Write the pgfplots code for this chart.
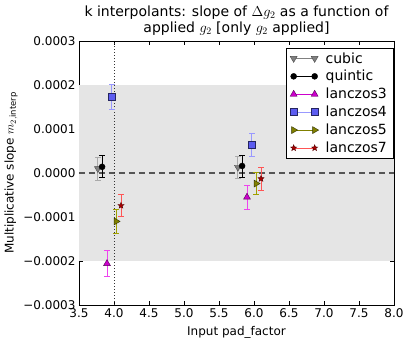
\documentclass[border=0pt]{standalone}
\usepackage{fontspec}
\setmainfont{DejaVu Sans}
\usepackage{pgfplots}
\pgfplotsset{compat=1.18}
\definecolor{cubm}{HTML}{808080}
\definecolor{cube}{HTML}{AAAAAA}
\definecolor{l3m}{HTML}{CC00CC}
\definecolor{l3e}{HTML}{EE44EE}
\definecolor{l4m}{HTML}{5C5CF0}
\definecolor{l4e}{HTML}{9999FF}
\definecolor{l5m}{HTML}{808000}
\definecolor{l5e}{HTML}{A0A000}
\definecolor{l7m}{HTML}{AA0000}
\definecolor{l7e}{HTML}{FF5555}
\definecolor{band}{HTML}{E5E5E5}
\definecolor{zline}{HTML}{555555}
\pgfdeclareplotmark{fstar}{%
  \pgfpathmoveto{\pgfpointpolar{90}{\pgfplotmarksize}}%
  \pgfpathlineto{\pgfpointpolar{126}{0.42\pgfplotmarksize}}%
  \pgfpathlineto{\pgfpointpolar{162}{\pgfplotmarksize}}%
  \pgfpathlineto{\pgfpointpolar{198}{0.42\pgfplotmarksize}}%
  \pgfpathlineto{\pgfpointpolar{234}{\pgfplotmarksize}}%
  \pgfpathlineto{\pgfpointpolar{270}{0.42\pgfplotmarksize}}%
  \pgfpathlineto{\pgfpointpolar{306}{\pgfplotmarksize}}%
  \pgfpathlineto{\pgfpointpolar{342}{0.42\pgfplotmarksize}}%
  \pgfpathlineto{\pgfpointpolar{18}{\pgfplotmarksize}}%
  \pgfpathlineto{\pgfpointpolar{54}{0.42\pgfplotmarksize}}%
  \pgfpathclose\pgfusepathqfillstroke}
\pgfplotsset{
  legline/.style={legend image code/.code={%
    \draw[#1, line width=0.9bp] (0bp,0bp)--(21bp,0bp);
    \draw[##1] plot coordinates {(0bp,0bp)(21bp,0bp)};}},
  ebar/.style={error bars/.cd, y dir=both, y explicit,
    error bar style={color=#1, line width=0.9bp},
    error mark options={color=#1, rotate=90, mark size=2.7bp, line width=0.9bp}},
}
\newcommand{\fs}{\fontsize{12bp}{14bp}\selectfont}
\newcommand{\fl}{\fontsize{14bp}{16.5bp}\selectfont}
\begin{document}
\begin{tikzpicture}
\begin{axis}[
  scale only axis, width=315bp, height=264bp,
  xmin=3.5, xmax=8, ymin=-0.0003, ymax=0.0003,
  xtick={3.5,4,4.5,5,5.5,6,6.5,7,7.5,8},
  xticklabels={3.5,4.0,4.5,5.0,5.5,6.0,6.5,7.0,7.5,8.0},
  ytick={-0.0003,-0.0002,-0.0001,0,0.0001,0.0002,0.0003},
  yticklabels={−0.0003,−0.0002,−0.0001,0.0000,0.0001,0.0002,0.0003},
  scaled y ticks=false, scaled x ticks=false,
  tick label style={font=\fs},
  xticklabel style={yshift=-0.5bp},
  yticklabel style={xshift=0bp},
  major tick length=4bp,
  tick style={black, line width=0.5bp},
  axis line style={line width=0.8bp},
  xlabel={Input pad\_factor}, ylabel={Multiplicative slope $m_{2,\mathrm{interp}}$},
  label style={font=\fs},
  xlabel style={yshift=-1.5bp},
  ylabel style={yshift=-1bp},
  title={k interpolants: slope of $\Delta g_2$ as a function of\\applied $g_2$ [only $g_2$ applied]},
  title style={font=\fl, align=center, yshift=-4bp},
  legend style={at={(0.997,0.973)}, anchor=north east, draw=black, line width=0.5bp,
    font=\fl, row sep=1.8bp, column sep=5bp, inner xsep=4bp, inner ysep=2bp, cells={anchor=west}},
  clip=false,
]
\addplot[fill=band, draw=none, forget plot] coordinates {(3.5,-0.0002) (8,-0.0002) (8,0.0002) (3.5,0.0002)} -- cycle;
\addplot[zline, line width=1.2bp, dash pattern=on 6bp off 4bp, forget plot] coordinates {(3.5,0) (8,0)};
\addplot[black!80, line width=0.9bp, dash pattern=on 1bp off 2bp, forget plot] coordinates {(4,-0.0003) (4,0.0003)};
% cubic
\addplot[only marks, mark=triangle*, mark size=4bp, mark options={rotate=180, fill=cubm, draw=black!70, line width=0.4bp},
  legline=cubm, ebar=cube]
  coordinates {(3.77,0.000010) +- (0,0.000026) (5.77,0.000013) +- (0,0.000025)};
\addlegendentry{cubic}
% quintic
\addplot[only marks, mark=*, mark size=3bp, mark options={fill=black, draw=black, line width=0.4bp},
  legline=black, ebar=black]
  coordinates {(3.83,0.000014) +- (0,0.000025) (5.83,0.000016) +- (0,0.000025)};
\addlegendentry{quintic}
% lanczos3
\addplot[only marks, mark=triangle*, mark size=4bp, mark options={fill=l3m, draw=black!60!l3m, line width=0.4bp},
  legline=l3m, ebar=l3e]
  coordinates {(3.90,-0.000206) +- (0,0.000030) (5.90,-0.000055) +- (0,0.000027)};
\addlegendentry{lanczos3}
% lanczos4
\addplot[only marks, mark=square*, mark size=3.5bp, mark options={fill=l4m, draw=black!60!l4m, line width=0.4bp},
  legline=l4e, ebar=l4e]
  coordinates {(3.97,0.000173) +- (0,0.000028) (5.97,0.000064) +- (0,0.000026)};
\addlegendentry{lanczos4}
% lanczos5
\addplot[only marks, mark=triangle*, mark size=4bp, mark options={rotate=-90, fill=l5m, draw=black!60!l5m, line width=0.4bp},
  legline=l5m, ebar=l5e]
  coordinates {(4.03,-0.000110) +- (0,0.000027) (6.03,-0.000024) +- (0,0.000025)};
\addlegendentry{lanczos5}
% lanczos7
\addplot[only marks, mark=fstar, mark size=3.2bp, mark options={fill=l7m, draw=black!50!l7m, line width=0.4bp},
  legline=l7e, ebar=l7e]
  coordinates {(4.10,-0.000074) +- (0,0.000025) (6.10,-0.000013) +- (0,0.000026)};
\addlegendentry{lanczos7}
\end{axis}
\pgfresetboundingbox
\path[use as bounding box] ([shift={(-79bp,-41bp)}]current axis.south west) rectangle ([shift={(21bp,41bp)}]current axis.north east);
\end{tikzpicture}
\end{document}
